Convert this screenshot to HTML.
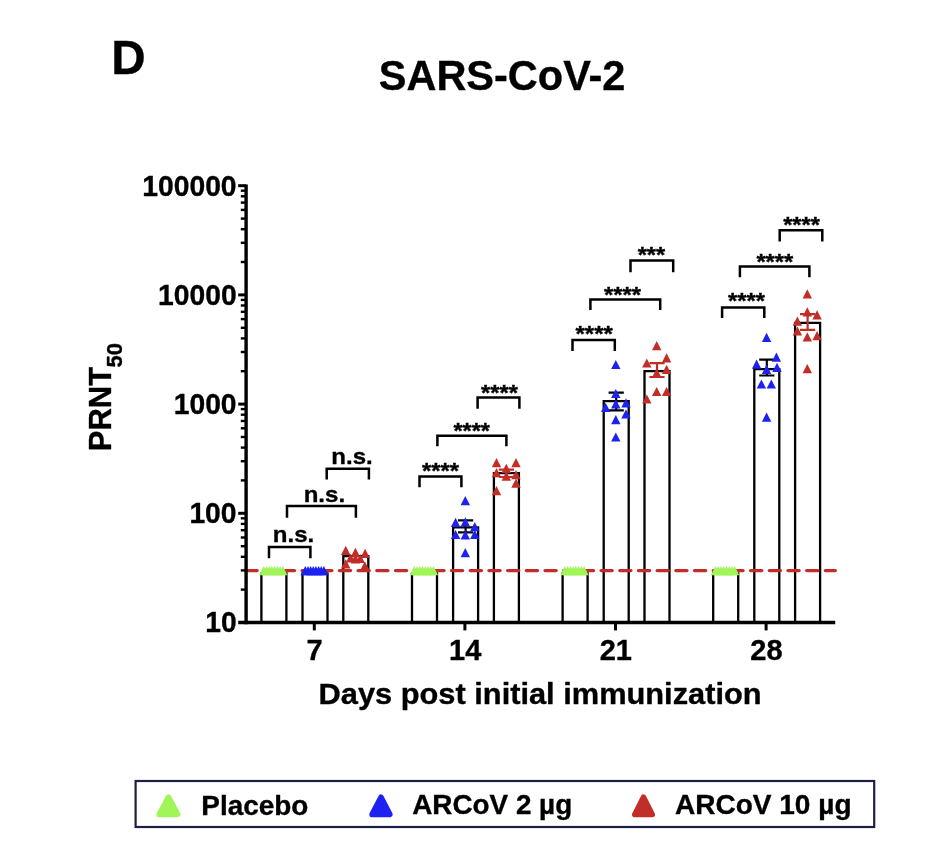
<!DOCTYPE html>
<html lang="en"><head><meta charset="utf-8"><title>SARS-CoV-2 PRNT50</title>
<style>html,body{margin:0;padding:0;background:#fff}svg{display:block;filter:blur(.45px)}text{stroke:#000;stroke-width:.35px;stroke-linejoin:round}</style></head>
<body>
<svg width="942" height="862" viewBox="0 0 942 862" font-family="Liberation Sans, Arial, Helvetica, sans-serif" font-weight="bold" fill="#000">
<rect width="942" height="862" fill="#fff"/>
<text x="111.3" y="73.5" font-size="47.6">D</text>
<text x="378.8" y="90.3" font-size="42.4" textLength="246.6" lengthAdjust="spacingAndGlyphs">SARS-CoV-2</text>
<text x="205.2" y="632.4" font-size="29.6" textLength="31.4" lengthAdjust="spacingAndGlyphs">10</text>
<text x="189.4" y="523.2" font-size="29.6" textLength="47.2" lengthAdjust="spacingAndGlyphs">100</text>
<text x="173.7" y="414.0" font-size="29.6" textLength="62.9" lengthAdjust="spacingAndGlyphs">1000</text>
<text x="158.0" y="304.8" font-size="29.6" textLength="78.6" lengthAdjust="spacingAndGlyphs">10000</text>
<text x="142.3" y="195.6" font-size="29.6" textLength="94.3" lengthAdjust="spacingAndGlyphs">100000</text>
<text transform="translate(111.2,451.2) rotate(-90)" font-size="31">PRNT<tspan font-size="22" dx="-0.6" dy="10.8">50</tspan></text>
<g fill="none" stroke="#000" stroke-width="2.3">
<path d="M261.4 622.5 V573.4 H286.4 V622.5"/>
<path d="M302.5 622.5 V573.4 H327.5 V622.5"/>
<path d="M343.3 622.5 V556.2 H368.3 V622.5"/>
<path d="M412.0 622.5 V573.4 H437.0 V622.5"/>
<path d="M453.1 622.5 V527.3 H478.1 V622.5"/>
<path d="M493.9 622.5 V473.2 H518.9 V622.5"/>
<path d="M562.6 622.5 V573.4 H587.6 V622.5"/>
<path d="M603.7 622.5 V401.1 H628.7 V622.5"/>
<path d="M644.5 622.5 V371.2 H669.5 V622.5"/>
<path d="M713.2 622.5 V573.4 H738.2 V622.5"/>
<path d="M754.3 622.5 V369.2 H779.3 V622.5"/>
<path d="M795.1 622.5 V322.9 H820.1 V622.5"/>
</g>
<path d="M246 570.6 H835.3" stroke="#c12d27" stroke-width="3.4" stroke-dasharray="11.1 7.59" stroke-linecap="round" fill="none"/>
<g stroke="#000" fill="none">
<path d="M246.1 184.4 V624.2" stroke-width="3.4"/>
<path d="M238.2 622.5 H835.2" stroke-width="3.4"/>
<path d="M238.2 513.3 H246.1" stroke-width="3"/>
<path d="M238.2 404.1 H246.1" stroke-width="3"/>
<path d="M238.2 294.9 H246.1" stroke-width="3"/>
<path d="M238.2 185.7 H246.1" stroke-width="3"/>
<path d="M240.8 589.6 H246.1" stroke-width="2.4"/>
<path d="M240.8 570.4 H246.1" stroke-width="2.4"/>
<path d="M240.8 556.8 H246.1" stroke-width="2.4"/>
<path d="M240.8 546.2 H246.1" stroke-width="2.4"/>
<path d="M240.8 537.5 H246.1" stroke-width="2.4"/>
<path d="M240.8 530.2 H246.1" stroke-width="2.4"/>
<path d="M240.8 523.9 H246.1" stroke-width="2.4"/>
<path d="M240.8 518.3 H246.1" stroke-width="2.4"/>
<path d="M240.8 480.4 H246.1" stroke-width="2.4"/>
<path d="M240.8 461.2 H246.1" stroke-width="2.4"/>
<path d="M240.8 447.6 H246.1" stroke-width="2.4"/>
<path d="M240.8 437.0 H246.1" stroke-width="2.4"/>
<path d="M240.8 428.3 H246.1" stroke-width="2.4"/>
<path d="M240.8 421.0 H246.1" stroke-width="2.4"/>
<path d="M240.8 414.7 H246.1" stroke-width="2.4"/>
<path d="M240.8 409.1 H246.1" stroke-width="2.4"/>
<path d="M240.8 371.2 H246.1" stroke-width="2.4"/>
<path d="M240.8 352.0 H246.1" stroke-width="2.4"/>
<path d="M240.8 338.4 H246.1" stroke-width="2.4"/>
<path d="M240.8 327.8 H246.1" stroke-width="2.4"/>
<path d="M240.8 319.1 H246.1" stroke-width="2.4"/>
<path d="M240.8 311.8 H246.1" stroke-width="2.4"/>
<path d="M240.8 305.5 H246.1" stroke-width="2.4"/>
<path d="M240.8 299.9 H246.1" stroke-width="2.4"/>
<path d="M240.8 262.0 H246.1" stroke-width="2.4"/>
<path d="M240.8 242.8 H246.1" stroke-width="2.4"/>
<path d="M240.8 229.2 H246.1" stroke-width="2.4"/>
<path d="M240.8 218.6 H246.1" stroke-width="2.4"/>
<path d="M240.8 209.9 H246.1" stroke-width="2.4"/>
<path d="M240.8 202.6 H246.1" stroke-width="2.4"/>
<path d="M240.8 196.3 H246.1" stroke-width="2.4"/>
<path d="M240.8 190.7 H246.1" stroke-width="2.4"/>
<path d="M314.3 622.5 V630.4" stroke-width="3"/>
<path d="M464.9 622.5 V630.4" stroke-width="3"/>
<path d="M615.5 622.5 V630.4" stroke-width="3"/>
<path d="M766.1 622.5 V630.4" stroke-width="3"/>
</g>
<text x="314.6" y="659.6" font-size="29" text-anchor="middle">7</text>
<text x="465.2" y="659.6" font-size="29" text-anchor="middle">14</text>
<text x="615.8" y="659.6" font-size="29" text-anchor="middle">21</text>
<text x="766.4" y="659.6" font-size="29" text-anchor="middle">28</text>
<text x="318.6" y="703.6" font-size="29.2" textLength="443" lengthAdjust="spacingAndGlyphs">Days post initial immunization</text>
<path d="M458.0 520.3 H473.2 M465.6 520.3 V532.3 M458.0 532.3 H473.2" stroke="#000" stroke-width="2.2" fill="none"/>
<path d="M498.8 469.6 H514.0 M506.4 469.6 V477.0 M498.8 477.0 H514.0" stroke="#c12d27" stroke-width="2.2" fill="none"/>
<path d="M608.6 392.7 H623.8 M616.2 392.7 V410.3 M608.6 410.3 H623.8" stroke="#000" stroke-width="2.2" fill="none"/>
<path d="M649.4 363.1 H664.6 M657.0 363.1 V377.0 M649.4 377.0 H664.6" stroke="#c12d27" stroke-width="2.2" fill="none"/>
<path d="M759.2 359.6 H774.4 M766.8 359.6 V375.5 M759.2 375.5 H774.4" stroke="#000" stroke-width="2.2" fill="none"/>
<path d="M800.0 314.2 H815.2 M807.6 314.2 V329.9 M800.0 329.9 H815.2" stroke="#c12d27" stroke-width="2.2" fill="none"/>
<path d="M263.7 565.9 L268.3 575.3 H259.1Z" fill="#a0f658"/>
<path d="M266.4 565.9 L271.0 575.3 H261.8Z" fill="#a0f658"/>
<path d="M269.2 565.9 L273.8 575.3 H264.6Z" fill="#a0f658"/>
<path d="M271.9 565.9 L276.5 575.3 H267.3Z" fill="#a0f658"/>
<path d="M274.7 565.9 L279.3 575.3 H270.1Z" fill="#a0f658"/>
<path d="M277.4 565.9 L282.0 575.3 H272.8Z" fill="#a0f658"/>
<path d="M280.2 565.9 L284.8 575.3 H275.6Z" fill="#a0f658"/>
<path d="M282.9 565.9 L287.5 575.3 H278.3Z" fill="#a0f658"/>
<path d="M414.3 565.9 L418.9 575.3 H409.7Z" fill="#a0f658"/>
<path d="M417.0 565.9 L421.6 575.3 H412.4Z" fill="#a0f658"/>
<path d="M419.8 565.9 L424.4 575.3 H415.2Z" fill="#a0f658"/>
<path d="M422.5 565.9 L427.1 575.3 H417.9Z" fill="#a0f658"/>
<path d="M425.3 565.9 L429.9 575.3 H420.7Z" fill="#a0f658"/>
<path d="M428.0 565.9 L432.6 575.3 H423.4Z" fill="#a0f658"/>
<path d="M430.8 565.9 L435.4 575.3 H426.2Z" fill="#a0f658"/>
<path d="M433.5 565.9 L438.1 575.3 H428.9Z" fill="#a0f658"/>
<path d="M564.9 565.9 L569.5 575.3 H560.3Z" fill="#a0f658"/>
<path d="M567.6 565.9 L572.2 575.3 H563.0Z" fill="#a0f658"/>
<path d="M570.4 565.9 L575.0 575.3 H565.8Z" fill="#a0f658"/>
<path d="M573.1 565.9 L577.7 575.3 H568.5Z" fill="#a0f658"/>
<path d="M575.9 565.9 L580.5 575.3 H571.3Z" fill="#a0f658"/>
<path d="M578.6 565.9 L583.2 575.3 H574.0Z" fill="#a0f658"/>
<path d="M581.4 565.9 L586.0 575.3 H576.8Z" fill="#a0f658"/>
<path d="M584.1 565.9 L588.7 575.3 H579.5Z" fill="#a0f658"/>
<path d="M715.5 565.9 L720.1 575.3 H710.9Z" fill="#a0f658"/>
<path d="M718.2 565.9 L722.8 575.3 H713.6Z" fill="#a0f658"/>
<path d="M721.0 565.9 L725.6 575.3 H716.4Z" fill="#a0f658"/>
<path d="M723.7 565.9 L728.3 575.3 H719.1Z" fill="#a0f658"/>
<path d="M726.5 565.9 L731.1 575.3 H721.9Z" fill="#a0f658"/>
<path d="M729.2 565.9 L733.8 575.3 H724.6Z" fill="#a0f658"/>
<path d="M732.0 565.9 L736.6 575.3 H727.4Z" fill="#a0f658"/>
<path d="M734.7 565.9 L739.3 575.3 H730.1Z" fill="#a0f658"/>
<path d="M305.3 565.9 L310.1 575.3 H300.5Z" fill="#1e22f0"/>
<path d="M308.0 565.9 L312.8 575.3 H303.2Z" fill="#1e22f0"/>
<path d="M310.6 565.9 L315.4 575.3 H305.8Z" fill="#1e22f0"/>
<path d="M313.3 565.9 L318.1 575.3 H308.5Z" fill="#1e22f0"/>
<path d="M315.9 565.9 L320.7 575.3 H311.1Z" fill="#1e22f0"/>
<path d="M318.6 565.9 L323.4 575.3 H313.8Z" fill="#1e22f0"/>
<path d="M321.2 565.9 L326.0 575.3 H316.4Z" fill="#1e22f0"/>
<path d="M323.9 565.9 L328.7 575.3 H319.1Z" fill="#1e22f0"/>
<path d="M345.7 545.7 L350.4 554.9 H341.0Z" fill="#c12d27"/>
<path d="M355.4 547.7 L360.1 556.9 H350.7Z" fill="#c12d27"/>
<path d="M365.1 548.8 L369.8 558.0 H360.4Z" fill="#c12d27"/>
<path d="M350.5 553.4 L355.2 562.6 H345.8Z" fill="#c12d27"/>
<path d="M360.2 553.9 L364.9 563.1 H355.5Z" fill="#c12d27"/>
<path d="M355.4 554.2 L360.1 563.4 H350.7Z" fill="#c12d27"/>
<path d="M345.7 559.2 L350.4 568.4 H341.0Z" fill="#c12d27"/>
<path d="M364.8 561.3 L369.5 570.5 H360.1Z" fill="#c12d27"/>
<path d="M465.3 496.0 L470.0 505.2 H460.6Z" fill="#1e22f0"/>
<path d="M455.6 517.7 L460.3 526.9 H450.9Z" fill="#1e22f0"/>
<path d="M465.3 517.3 L470.0 526.5 H460.6Z" fill="#1e22f0"/>
<path d="M474.8 522.0 L479.5 531.2 H470.1Z" fill="#1e22f0"/>
<path d="M455.6 529.9 L460.3 539.1 H450.9Z" fill="#1e22f0"/>
<path d="M465.3 530.2 L470.0 539.4 H460.6Z" fill="#1e22f0"/>
<path d="M474.8 529.8 L479.5 539.0 H470.1Z" fill="#1e22f0"/>
<path d="M465.3 548.0 L470.0 557.2 H460.6Z" fill="#1e22f0"/>
<path d="M496.5 458.1 L501.2 467.3 H491.8Z" fill="#c12d27"/>
<path d="M516.0 458.1 L520.7 467.3 H511.3Z" fill="#c12d27"/>
<path d="M506.3 463.7 L511.0 472.9 H501.6Z" fill="#c12d27"/>
<path d="M496.5 468.0 L501.2 477.2 H491.8Z" fill="#c12d27"/>
<path d="M506.3 471.6 L511.0 480.8 H501.6Z" fill="#c12d27"/>
<path d="M516.0 470.0 L520.7 479.2 H511.3Z" fill="#c12d27"/>
<path d="M516.0 478.5 L520.7 487.7 H511.3Z" fill="#c12d27"/>
<path d="M496.5 486.0 L501.2 495.2 H491.8Z" fill="#c12d27"/>
<path d="M615.8 359.9 L620.5 369.1 H611.1Z" fill="#1e22f0"/>
<path d="M615.8 388.9 L620.5 398.1 H611.1Z" fill="#1e22f0"/>
<path d="M615.8 399.3 L620.5 408.5 H611.1Z" fill="#1e22f0"/>
<path d="M605.7 402.8 L610.4 412.0 H601.0Z" fill="#1e22f0"/>
<path d="M626.0 398.2 L630.7 407.4 H621.3Z" fill="#1e22f0"/>
<path d="M626.0 409.2 L630.7 418.4 H621.3Z" fill="#1e22f0"/>
<path d="M615.8 415.0 L620.5 424.2 H611.1Z" fill="#1e22f0"/>
<path d="M615.8 432.4 L620.5 441.6 H611.1Z" fill="#1e22f0"/>
<path d="M656.7 341.0 L661.4 350.2 H652.0Z" fill="#c12d27"/>
<path d="M666.6 353.2 L671.3 362.4 H661.9Z" fill="#c12d27"/>
<path d="M646.8 358.4 L651.5 367.6 H642.1Z" fill="#c12d27"/>
<path d="M666.6 364.8 L671.3 374.0 H661.9Z" fill="#c12d27"/>
<path d="M656.7 368.3 L661.4 377.5 H652.0Z" fill="#c12d27"/>
<path d="M656.7 386.9 L661.4 396.1 H652.0Z" fill="#c12d27"/>
<path d="M666.6 386.9 L671.3 396.1 H661.9Z" fill="#c12d27"/>
<path d="M646.8 394.4 L651.5 403.6 H642.1Z" fill="#c12d27"/>
<path d="M766.6 332.8 L771.3 342.0 H761.9Z" fill="#1e22f0"/>
<path d="M776.4 352.6 L781.1 361.8 H771.7Z" fill="#1e22f0"/>
<path d="M756.6 359.6 L761.3 368.8 H751.9Z" fill="#1e22f0"/>
<path d="M777.0 362.8 L781.7 372.0 H772.3Z" fill="#1e22f0"/>
<path d="M766.6 364.7 L771.3 373.9 H761.9Z" fill="#1e22f0"/>
<path d="M761.4 379.4 L766.1 388.6 H756.7Z" fill="#1e22f0"/>
<path d="M771.3 379.4 L776.0 388.6 H766.6Z" fill="#1e22f0"/>
<path d="M766.6 412.6 L771.3 421.8 H761.9Z" fill="#1e22f0"/>
<path d="M807.3 289.3 L812.0 298.5 H802.6Z" fill="#c12d27"/>
<path d="M807.3 307.3 L812.0 316.5 H802.6Z" fill="#c12d27"/>
<path d="M817.1 310.2 L821.8 319.4 H812.4Z" fill="#c12d27"/>
<path d="M797.4 316.6 L802.1 325.8 H792.7Z" fill="#c12d27"/>
<path d="M797.4 326.4 L802.1 335.6 H792.7Z" fill="#c12d27"/>
<path d="M807.3 332.2 L812.0 341.4 H802.6Z" fill="#c12d27"/>
<path d="M817.1 331.1 L821.8 340.3 H812.4Z" fill="#c12d27"/>
<path d="M807.3 364.1 L812.0 373.3 H802.6Z" fill="#c12d27"/>
<path d="M269.0 558.3 V546.9 H310.4 V558.3" stroke="#000" stroke-width="2.5" fill="none" stroke-linejoin="miter"/>
<path d="M287.0 517.7 V506.0 H355.9 V517.7" stroke="#000" stroke-width="2.5" fill="none" stroke-linejoin="miter"/>
<path d="M326.7 479.5 V468.7 H368.9 V479.5" stroke="#000" stroke-width="2.5" fill="none" stroke-linejoin="miter"/>
<path d="M419.5 487.3 V476.4 H461.4 V487.3" stroke="#000" stroke-width="2.5" fill="none" stroke-linejoin="miter"/>
<path d="M437.4 446.3 V435.8 H506.4 V446.3" stroke="#000" stroke-width="2.5" fill="none" stroke-linejoin="miter"/>
<path d="M477.6 408.7 V397.6 H519.4 V408.7" stroke="#000" stroke-width="2.5" fill="none" stroke-linejoin="miter"/>
<path d="M572.5 351.0 V340.1 H614.8 V351.0" stroke="#000" stroke-width="2.5" fill="none" stroke-linejoin="miter"/>
<path d="M590.4 309.9 V299.5 H660.2 V309.9" stroke="#000" stroke-width="2.5" fill="none" stroke-linejoin="miter"/>
<path d="M630.5 272.2 V260.5 H673.2 V272.2" stroke="#000" stroke-width="2.5" fill="none" stroke-linejoin="miter"/>
<path d="M722.1 318.1 V307.4 H764.3 V318.1" stroke="#000" stroke-width="2.5" fill="none" stroke-linejoin="miter"/>
<path d="M739.9 277.3 V266.5 H809.4 V277.3" stroke="#000" stroke-width="2.5" fill="none" stroke-linejoin="miter"/>
<path d="M779.7 241.6 V230.2 H822.3 V241.6" stroke="#000" stroke-width="2.5" fill="none" stroke-linejoin="miter"/>
<text x="272.8" y="542.0" font-size="22.5" textLength="41.4" lengthAdjust="spacingAndGlyphs">n.s.</text>
<text x="303.7" y="501.5" font-size="22.5" textLength="41.4" lengthAdjust="spacingAndGlyphs">n.s.</text>
<text x="331.3" y="463.8" font-size="22.5" textLength="41.4" lengthAdjust="spacingAndGlyphs">n.s.</text>
<text x="422.1" y="478.2" font-size="22.6" textLength="37.0" lengthAdjust="spacingAndGlyphs">****</text>
<text x="453.5" y="437.6" font-size="22.6" textLength="36.4" lengthAdjust="spacingAndGlyphs">****</text>
<text x="481.1" y="399.6" font-size="22.6" textLength="36.8" lengthAdjust="spacingAndGlyphs">****</text>
<text x="575.5" y="341.4" font-size="22.6" textLength="37.3" lengthAdjust="spacingAndGlyphs">****</text>
<text x="603.9" y="301.8" font-size="22.6" textLength="37.0" lengthAdjust="spacingAndGlyphs">****</text>
<text x="637.7" y="262.3" font-size="22.6" textLength="27.5" lengthAdjust="spacingAndGlyphs">***</text>
<text x="728.0" y="308.2" font-size="22.6" textLength="36.9" lengthAdjust="spacingAndGlyphs">****</text>
<text x="756.4" y="268.8" font-size="22.6" textLength="36.9" lengthAdjust="spacingAndGlyphs">****</text>
<text x="783.2" y="231.9" font-size="22.6" textLength="36.6" lengthAdjust="spacingAndGlyphs">****</text>
<rect x="135.6" y="781" width="738.6" height="46" fill="#fff" stroke="#1f1f45" stroke-width="2.2"/>
<path d="M168.5 797.1 L177.7 814.4 H159.3Z" fill="#a0f658" stroke="#a0f658" stroke-width="5.6" stroke-linejoin="round"/>
<path d="M381.0 797.2 L389.8 814.4 H372.1Z" fill="#1e22f0" stroke="#1e22f0" stroke-width="5.6" stroke-linejoin="round"/>
<path d="M643.5 797.2 L652.2 814.4 H634.8Z" fill="#c12d27" stroke="#c12d27" stroke-width="5.6" stroke-linejoin="round"/>
<text x="201.3" y="814.8" font-size="27.5" textLength="107" lengthAdjust="spacingAndGlyphs">Placebo</text>
<text x="412.2" y="814.4" font-size="27.5" textLength="160" lengthAdjust="spacingAndGlyphs">ARCoV 2 µg</text>
<text x="675" y="814.4" font-size="27.5" textLength="176.5" lengthAdjust="spacingAndGlyphs">ARCoV 10 µg</text>
</svg>
</body></html>
